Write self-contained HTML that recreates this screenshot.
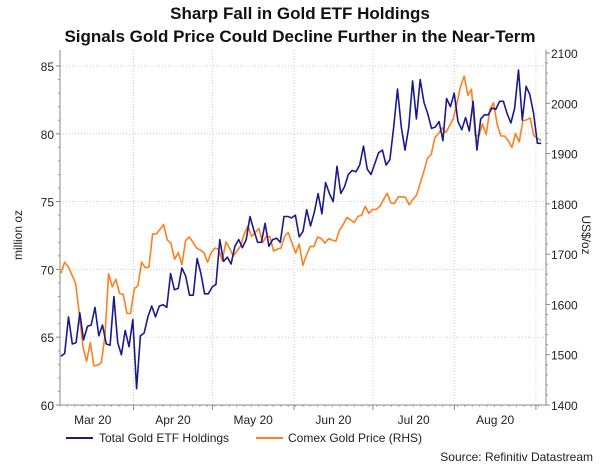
<!DOCTYPE html>
<html><head><meta charset="utf-8"><style>
body{margin:0;background:#fff;}
svg{display:block;font-family:"Liberation Sans",sans-serif;}
</style></head><body>
<svg id="chart" width="600" height="464" viewBox="0 0 600 464">
<text x="300" y="19" text-anchor="middle" font-size="17" font-weight="bold" fill="#111">Sharp Fall in Gold ETF Holdings</text>
<text x="300" y="42" text-anchor="middle" font-size="17" font-weight="bold" fill="#111">Signals Gold Price Could Decline Further in the Near-Term</text>
<g id="grid"></g><g id="axes"></g><g id="series"></g>
<text transform="translate(22,235) rotate(-90)" text-anchor="middle" font-size="12" fill="#222">million oz</text>
<text transform="translate(582,235) rotate(90)" text-anchor="middle" font-size="12" fill="#222">US$/oz</text>
<g>
<line x1="66" y1="438" x2="93" y2="438" stroke="#1a1a8c" stroke-width="2"/>
<text x="99" y="442" font-size="12" fill="#222">Total Gold ETF Holdings</text>
<line x1="256" y1="438" x2="283" y2="438" stroke="#ff7f1e" stroke-width="2"/>
<text x="288" y="442" font-size="12" fill="#222">Comex Gold Price (RHS)</text>
</g>
<text x="593" y="461" text-anchor="end" font-size="12" fill="#222">Source: Refinitiv Datastream</text>
</svg>
<script>
const leftTicks=[60,65,70,75,80,85];
const rightTicks=[1400,1500,1600,1700,1800,1900,2000,2100];
const months=["Mar 20","Apr 20","May 20","Jun 20","Jul 20","Aug 20"];
const monthStartDays=[0,31,61,92,122,153,184];
const seriesStartDay=3.4, seriesEndDay=186;
const etfHoldings=[63.6,63.8,66.5,64.5,64.6,66.8,64.8,65.8,65.9,67.2,65.1,65.9,64.5,64.4,68.0,64.6,63.7,65.5,64.3,66.3,61.2,65.1,65.3,66.5,67.3,66.5,67.3,67.4,67.2,69.7,68.5,68.6,70.1,69.5,68.1,68.1,70.8,69.7,68.2,68.2,68.7,68.9,72.2,70.6,70.9,70.4,71.7,72.2,71.6,72.2,73.9,72.9,72.0,72.0,73.4,71.7,72.2,72.3,72.0,73.9,
73.9,73.8,74.0,72.4,72.8,74.4,73.2,74.2,75.6,74.1,76.4,75.6,75.0,77.6,75.6,76.1,77.0,77.3,77.2,77.7,79.1,77.4,77.0,77.8,78.6,78.8,77.7,78.1,80.5,83.3,80.5,78.8,80.5,83.9,81.1,84.0,82.3,81.5,80.4,80.5,80.9,79.5,82.6,82.0,83.0,80.9,80.3,81.2,80.2,82.4,78.8,81.1,81.4,81.4,81.9,81.8,82.4,82.4,81.5,80.8,81.9,84.7,81.0,83.5,82.9,81.5,79.3,79.3];
const goldPrice=[1662,1684,1675,1659,1642,1582,1516,1487,1524,1478,1479,1484,1536,1661,1635,1650,1622,1620,1582,1582,1631,1637,1684,1673,1674,1740,1740,1749,1759,1728,1722,1690,1703,1679,1727,1734,1724,1712,1708,1703,1684,1703,1712,1710,1687,1724,1712,1696,1706,1716,1740,1756,1735,1743,1751,1723,1735,1735,1706,1710,1712,1735,1743,
1723,1702,1720,1678,1699,1715,1715,1734,1731,1722,1731,1728,1726,1748,1759,1773,1768,1763,1775,1777,1795,1781,1789,1789,1795,1808,1821,1802,1801,1814,1814,1813,1798,1809,1817,1841,1865,1891,1898,1932,1940,1951,1942,1955,1969,2000,2033,2054,2016,2028,1935,1936,1959,1938,1988,2001,1958,1935,1935,1926,1912,1940,1923,1965,1967,1971,1936,1930,1926];

const X0=60,X1=546,Y0=405,YT=66;
const xDay=d=>52+d*2.63;
const yL=v=>Y0-(v-60)*(Y0-YT)/25;
const yR=v=>Y0-(v-1400)*(Y0-53)/700;
const NS="http://www.w3.org/2000/svg";
function mk(tag,attrs,parent){const e=document.createElementNS(NS,tag);for(const k in attrs)e.setAttribute(k,attrs[k]);parent.appendChild(e);return e;}
const grid=document.getElementById('grid'),axes=document.getElementById('axes'),ser=document.getElementById('series');
leftTicks.forEach((t,i)=>{
  const y=yL(t);
  if(i>0){const g=mk('line',{x1:X0,x2:X1,y1:y,y2:y,stroke:'#ccc','stroke-dasharray':'1,2'},grid);
  
  }
  const tx=mk('text',{x:X0-6,y:y+5,'text-anchor':'end','font-size':12,fill:'#222'},axes);tx.textContent=t;
  
  
  mk('line',{x1:X0-4,x2:X0,y1:y,y2:y,stroke:'#888'},axes);
  if(i<leftTicks.length-1){for(let m=1;m<5;m++){const ym=yL(t+m);mk('line',{x1:X0-2,x2:X0,y1:ym,y2:ym,stroke:'#999'},axes);}}
});
rightTicks.forEach((t,i)=>{
  const y=yR(t);
  const tx=mk('text',{x:X1+5,y:y+5,'font-size':12,fill:'#222'},axes);tx.textContent=t;
  
  
  mk('line',{x1:X1,x2:X1+4,y1:y,y2:y,stroke:'#888'},axes);
  if(i<rightTicks.length-1){for(let m=1;m<5;m++){const ym=yR(t+m*20);mk('line',{x1:X1,x2:X1+2,y1:ym,y2:ym,stroke:'#999'},axes);}}
});
monthStartDays.forEach((d,i)=>{
  const x=xDay(d);
  if(i>0){const g=mk('line',{x1:x,x2:x,y1:50,y2:Y0,stroke:'#ccc','stroke-dasharray':'1,2'},grid);
  
  
  mk('line',{x1:x,x2:x,y1:Y0,y2:Y0+5,stroke:'#888'},axes);}
  if(i<months.length){const xm=xDay((d+monthStartDays[i+1])/2);
  const tx=mk('text',{x:xm,y:Y0+19,'text-anchor':'middle','font-size':12,fill:'#222'},axes);tx.textContent=months[i];
  
  }
});
for(let d=3;d<186;d+=2.8){const x=xDay(d);mk('line',{x1:x,x2:x,y1:Y0,y2:Y0+2,stroke:'#aaa'},axes);}
const la=mk('line',{x1:X0,x2:X0,y1:50,y2:Y0,stroke:'#888'},axes);


const ra=mk('line',{x1:X1,x2:X1,y1:50,y2:Y0,stroke:'#888'},axes);


const ba=mk('line',{x1:X0,x2:X1,y1:Y0,y2:Y0,stroke:'#888'},axes);


function path(vals,yf){const n=vals.length;return vals.map((v,i)=>(i?'L':'M')+xDay(seriesStartDay+i*(seriesEndDay-seriesStartDay)/(n-1)).toFixed(1)+','+yf(v).toFixed(1)).join('');}
const po=mk('path',{d:path(goldPrice,yR),fill:'none',stroke:'#ff7f1e','stroke-width':1.6,'stroke-linejoin':'round'},ser);


const pb=mk('path',{d:path(etfHoldings,yL),fill:'none',stroke:'#1a1a8c','stroke-width':1.6,'stroke-linejoin':'round'},ser);


</script>
</body></html>
